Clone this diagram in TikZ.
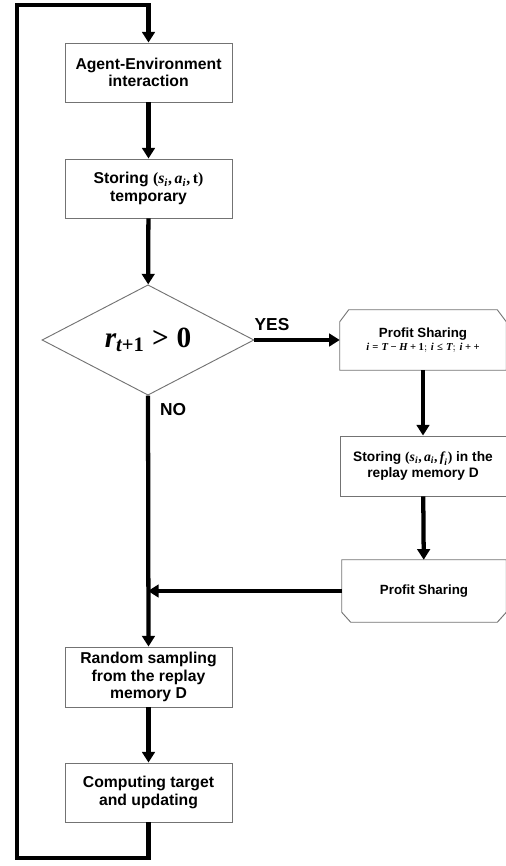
\documentclass[tikz,border=0pt]{standalone}
\usepackage{fontspec}
\setmainfont{Liberation Sans}
\newfontfamily\mvfont{Liberation Serif}
\usepackage{amsmath}
\usepackage{amssymb}
\usepackage{xcolor}
\usetikzlibrary{shapes.geometric,arrows.meta,calc}
\definecolor{boxgray}{rgb}{0.45,0.45,0.45}
\newcommand{\mv}[1]{\text{\mvfont\bfseries\itshape #1}}
\newcommand{\mn}[1]{\text{\mvfont\bfseries #1}}
\newcommand{\mr}[1]{\mathrel{\mn{#1}}}
\newcommand{\mb}[1]{\mathbin{\mn{#1}}}

\tikzset{
  procbox/.style={draw=boxgray, line width=0.7pt, minimum width=125.25pt, minimum height=44.25pt,
    inner sep=1pt, align=center, font=\bfseries\fontsize{11.8}{13}\selectfont},
  flowarrow/.style={line width=3.2pt, -{Triangle[length=8pt,width=9.5pt]}},
  outline/.style={draw=boxgray, line width=0.7pt},
  yesno/.style={inner sep=0.75pt, font=\bfseries\fontsize{13}{15}\selectfont}
}

\begin{document}
\begin{tikzpicture}[x=0.75pt,y=0.75pt,yscale=-1,xscale=1]
\path[use as bounding box] (0,0) rectangle (506,866);

%Shape: Rectangle
\node [procbox] (ae) at (148.5,72.5) {Agent-Environment\\interaction};
%Shape: Rectangle
\node [procbox] (st) at (148.5,188.5) {Storing $\mn{(}\mv{s}_{\mv{i}}\mn{,}\,\mv{a}_{\mv{i}}\mn{,}\,\mn{t}\mn{)}$\\temporary};
%Shape: Diamond
\node [diamond, draw=boxgray, line width=0.7pt, inner sep=0pt, minimum width=159pt, minimum height=78pt,
  font=\fontsize{22}{24}\selectfont] (dc) at (148,340) {$\mv{r}_{\mv{t}\mn{+}\mn{1}}\mr{>}\mn{0}$};

%Shape: Loop limit (start)
\node [minimum width=124.5pt, minimum height=45pt, inner sep=1pt, align=center,
  font=\bfseries\fontsize{10}{11}\selectfont] (ls) at (423,340)
  {Profit Sharing\\[-1pt]{\fontsize{8}{9}\selectfont$\mv{i}\mr{=}\mv{T}\mb{−}\mv{H}\mb{+}\mn{1};\,\mv{i}\mr{≤}\mv{T};\,\mv{i}\mb{+}\mn{+}$}};
\draw [outline] (ls.south west) -- ($(ls.north west)+(0,12)$) -- ($(ls.north west)+(9,0)$)
  -- ($(ls.north east)+(-9,0)$) -- ($(ls.north east)+(0,12)$) -- (ls.south east) -- cycle;

%Shape: Rectangle
\node [procbox, minimum width=124.5pt, minimum height=45pt, font=\bfseries\fontsize{10.3}{12}\selectfont] (sr) at (423,466)
  {Storing $\mn{(}\mv{s}_{\mv{i}}\mn{,}\,\mv{a}_{\mv{i}}\mn{,}\,\mv{f}_{\mv{i}}\mn{)}$ in the\\replay memory D};

%Shape: Loop limit (end)
\node [minimum width=123pt, minimum height=46.5pt, inner sep=1pt,
  font=\bfseries\fontsize{10}{11}\selectfont] (le) at (424,591) {Profit Sharing};
\draw [outline] (le.north west) -- ($(le.south west)+(0,-10)$) -- ($(le.south west)+(9,0)$)
  -- ($(le.south east)+(-9,0)$) -- ($(le.south east)+(0,-10)$) -- (le.north east) -- cycle;

%Shape: Rectangle
\node [procbox, minimum height=45pt] (rs) at (148.5,677) {Random sampling\\from the replay\\memory D};
%Shape: Rectangle
\node [procbox] (ct) at (148.5,792.5) {Computing target\\and updating};

\coordinate (mg) at (148,591);
\coordinate (lb) at (17,858);
\coordinate (lt) at (17,5);

%Straight Lines [id:flow]
\draw [flowarrow] (ae) -- (st);
\draw [flowarrow] (st) -- (dc);
\draw [flowarrow] (dc.east) -- (ls.west);
\draw [flowarrow] (ls.south -| sr.north) -- (sr);
\draw [flowarrow] (sr) -- (le);
\draw [flowarrow] (le.west) -- (mg);
\draw [flowarrow] (dc.south) -- (rs.north);
\draw [flowarrow] (rs) -- (ct);
\draw [flowarrow, line join=miter] (ct.south) |- (lb) -- (lt) -| (ae.north);

% Text Node
\node [yesno] (yes) at (272,325) {YES};
% Text Node
\node [yesno] (no) at (173,410) {NO};

\end{tikzpicture}
\end{document}
